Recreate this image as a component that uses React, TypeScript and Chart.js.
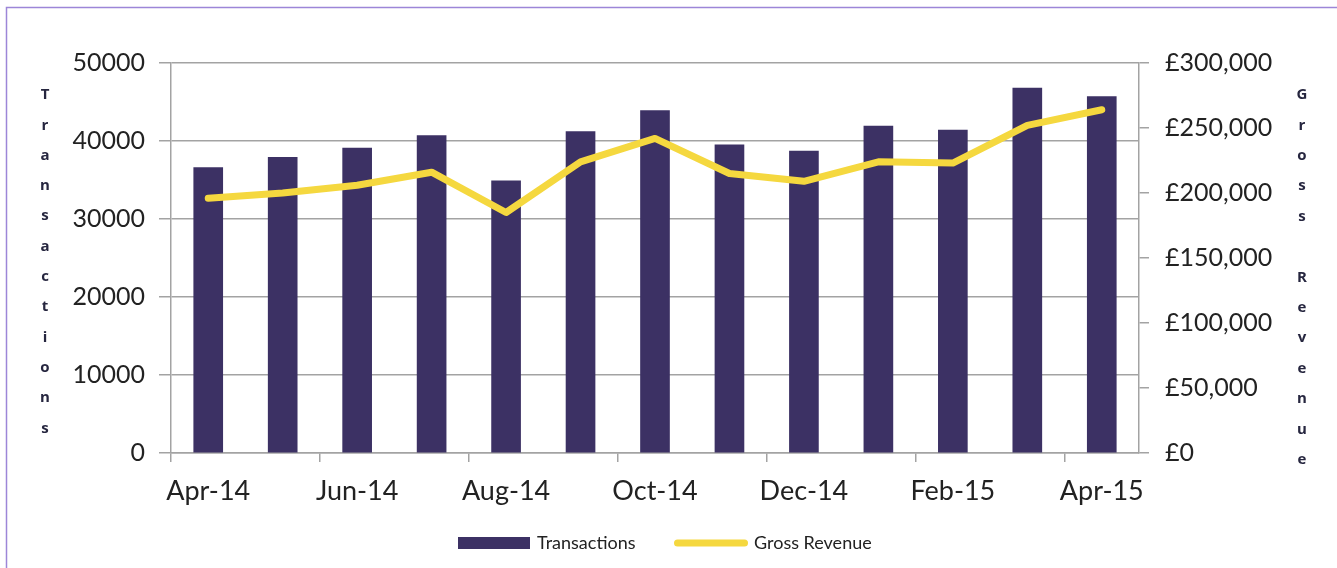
import React, { useEffect, useRef } from 'react';
import { Chart, registerables } from 'chart.js';

Chart.register(...registerables);

const months = ['Apr-14', 'May-14', 'Jun-14', 'Jul-14', 'Aug-14', 'Sep-14', 'Oct-14', 'Nov-14', 'Dec-14', 'Jan-15', 'Feb-15', 'Mar-15', 'Apr-15'];
const transactions = [36600, 37900, 39100, 40700, 34900, 41200, 43900, 39500, 38700, 41900, 41400, 46800, 45700];
const grossRevenue = [196000, 200000, 206000, 216000, 185000, 224000, 242000, 215000, 209000, 224000, 223000, 252000, 264000];
const leftTitle = 'Transactions';
const rightTitle = 'Gross Revenue';

const FONT = 'Lato';
const GRID = '#a3a3a3';
const TEXT = '#222222';
const BAR = '#3c3164';
const LINE = '#f5d83f';

const decorPlugin = {
  id: 'decor',
  afterDraw(chart: any) {
    const ctx = chart.ctx;
    ctx.save();
    // frame
    ctx.strokeStyle = '#9d86d8';
    ctx.lineWidth = 1.5;
    ctx.beginPath();
    ctx.moveTo(6.5, 568);
    ctx.lineTo(6.5, 7.5);
    ctx.lineTo(1337, 7.5);
    ctx.stroke();
    // stacked axis titles
    ctx.fillStyle = '#26263f';
    ctx.font = `bold 15px "Open Sans"`;
    ctx.textAlign = 'center';
    ctx.textBaseline = 'middle';
    leftTitle.split('').forEach((ch, i) => {
      ctx.fillText(ch, 45, 95 + i * 30.3);
    });
    rightTitle.split('').forEach((ch, i) => {
      if (ch !== ' ') ctx.fillText(ch, 1302, 95 + i * 30.4);
    });
    // legend
    const ds = chart.data.datasets;
    const ly = 543;
    ctx.font = `18px ${FONT}`;
    ctx.textAlign = 'left';
    ctx.fillStyle = ds[0].backgroundColor;
    ctx.fillRect(458, ly - 6, 72, 12);
    ctx.fillStyle = TEXT;
    ctx.fillText(ds[0].label, 537, ly);
    ctx.strokeStyle = ds[1].borderColor;
    ctx.lineWidth = 7;
    ctx.lineCap = 'round';
    ctx.beginPath();
    ctx.moveTo(677.5, ly);
    ctx.lineTo(744.5, ly);
    ctx.stroke();
    ctx.fillStyle = TEXT;
    ctx.fillText(ds[1].label, 754, ly);
    ctx.restore();
  },
};

export default function App() {
  const ref = useRef<HTMLCanvasElement>(null);
  useEffect(() => {
    if (!ref.current) return;
    const chart = new Chart(ref.current, {
      type: 'bar',
      data: {
        labels: months,
        datasets: [
          {
            type: 'bar',
            label: 'Transactions',
            data: transactions,
            backgroundColor: BAR,
            borderWidth: 0,
            barThickness: 29,
            yAxisID: 'y',
            order: 2,
          } as any,
          {
            type: 'line',
            label: 'Gross Revenue',
            data: grossRevenue,
            borderColor: LINE,
            backgroundColor: LINE,
            borderWidth: 7,
            borderCapStyle: 'round',
            borderJoinStyle: 'round',
            pointRadius: 0,
            tension: 0,
            yAxisID: 'y2',
            order: 1,
          } as any,
        ],
      },
      options: {
        responsive: false,
        animation: false,
        layout: { padding: { top: 63, left: 0, right: 0, bottom: 0 } },
        plugins: {
          tooltip: { enabled: false },
          legend: { display: false },
        },
        scales: {
          x: {
            offset: true,
            grid: {
              offset: true,
              drawOnChartArea: false,
              tickLength: 9,
              lineWidth: 1.5,
              color: (c: any) => (c.index % 2 === 0 ? GRID : 'rgba(0,0,0,0)'),
            },
            border: { color: GRID, width: 1.5 },
            ticks: {
              autoSkip: false,
              maxRotation: 0,
              padding: 13,
              color: TEXT,
              font: { family: FONT, size: 27 },
              callback: (_v: any, i: number) => (i % 2 === 0 ? months[i] : ''),
            },
            afterFit: (s: any) => { s.height = 115; },
          },
          y: {
            position: 'left',
            min: 0,
            max: 50000,
            grid: { color: GRID, lineWidth: 1.5, tickLength: 12 },
            border: { color: GRID, width: 1.5 },
            ticks: {
              stepSize: 10000,
              padding: 14,
              color: TEXT,
              font: { family: FONT, size: 25 },
              callback: (v: any) => String(v),
            },
            afterFit: (s: any) => { s.width = 171; },
          },
          y2: {
            position: 'right',
            min: 0,
            max: 300000,
            grid: { drawOnChartArea: false, color: GRID, lineWidth: 1.5, tickLength: 10 },
            border: { color: GRID, width: 1.5 },
            ticks: {
              stepSize: 50000,
              padding: 16,
              color: TEXT,
              font: { family: FONT, size: 25 },
              callback: (v: any) => '£' + Number(v).toLocaleString('en-GB'),
            },
            afterFit: (s: any) => { s.width = 198; },
          },
        },
      },
      plugins: [decorPlugin],
    });
    return () => chart.destroy();
  }, []);
  return (
    <div style={{ position: 'fixed', left: 0, top: 0, width: 1337, height: 568, background: '#fff' }}>
      <canvas ref={ref} width={1337} height={568} style={{ display: 'block' }} />
    </div>
  );
}
